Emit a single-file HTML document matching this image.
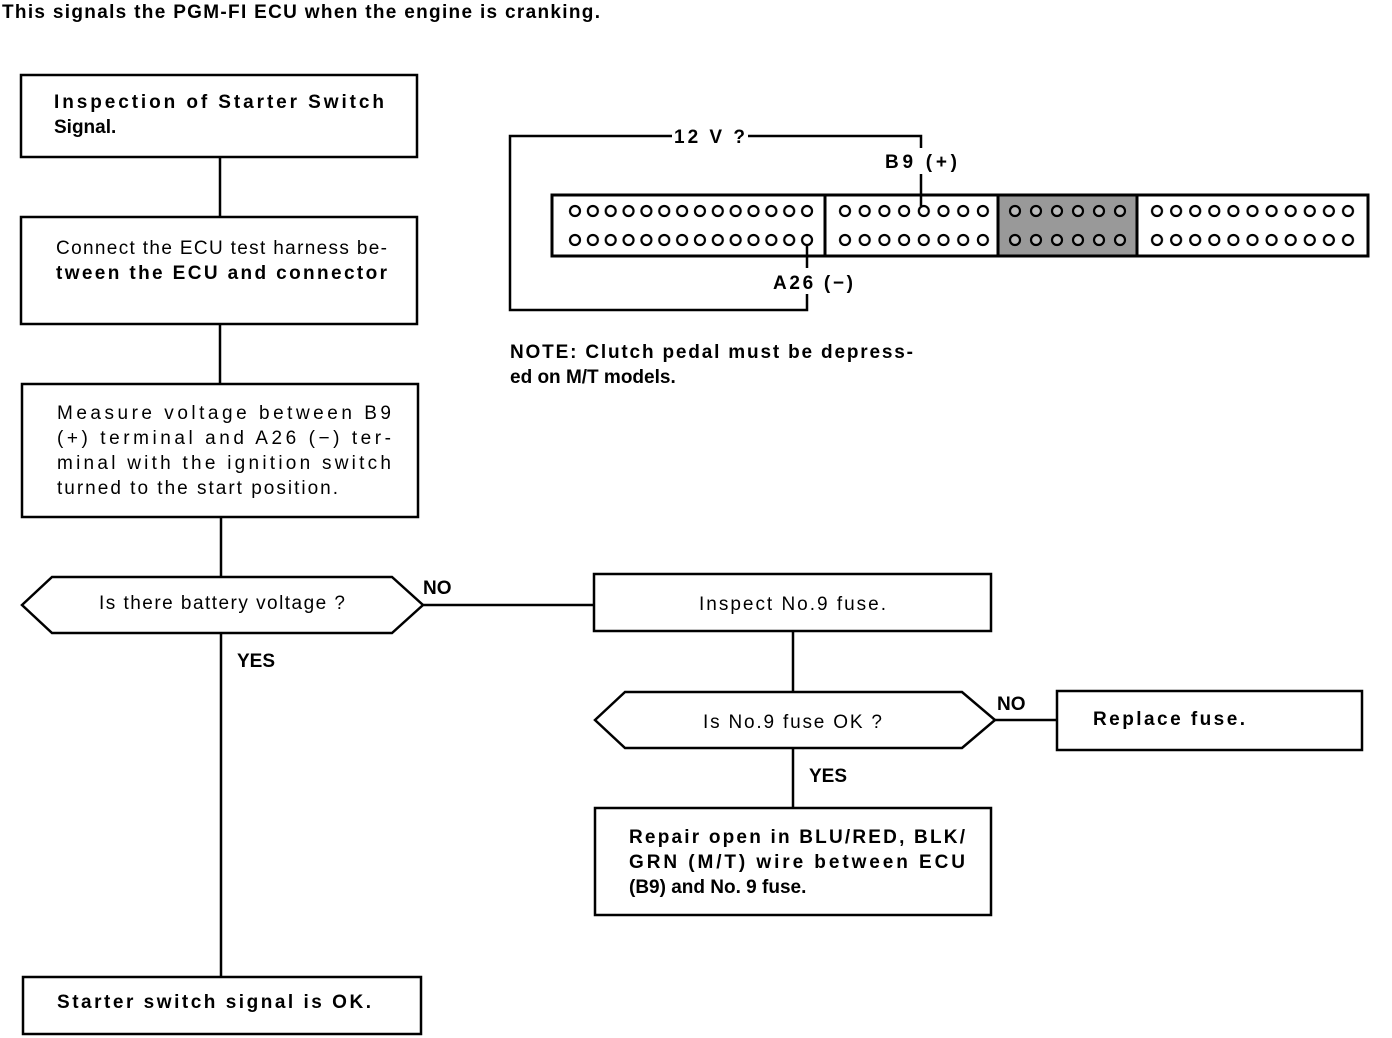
<!DOCTYPE html>
<html><head><meta charset="utf-8"><style>
html,body{margin:0;padding:0;background:#fff}
svg{display:block}
text{font-family:"Liberation Sans",sans-serif;font-weight:bold;font-size:19px;fill:#000}
</style></head><body>
<svg width="1392" height="1038" viewBox="0 0 1392 1038" xmlns="http://www.w3.org/2000/svg">
<defs>
<pattern id="pL" patternUnits="userSpaceOnUse" x="566.1" y="0" width="17.85" height="1038"><circle cx="8.9" cy="211" r="5" fill="none" stroke="#000" stroke-width="2.2"/><circle cx="8.9" cy="240" r="5" fill="none" stroke="#000" stroke-width="2.2"/></pattern>
<pattern id="pM" patternUnits="userSpaceOnUse" x="835.15" y="0" width="19.7" height="1038"><circle cx="9.85" cy="211" r="5" fill="none" stroke="#000" stroke-width="2.2"/><circle cx="9.85" cy="240" r="5" fill="none" stroke="#000" stroke-width="2.2"/></pattern>
<pattern id="pS" patternUnits="userSpaceOnUse" x="1004.5" y="0" width="21" height="1038"><circle cx="10.5" cy="211" r="5" fill="#bbb" stroke="#000" stroke-width="2.2"/><circle cx="10.5" cy="240" r="5" fill="#bbb" stroke="#000" stroke-width="2.2"/></pattern>
<pattern id="pR" patternUnits="userSpaceOnUse" x="1147.45" y="0" width="19.1" height="1038"><circle cx="9.55" cy="211" r="5" fill="none" stroke="#000" stroke-width="2.2"/><circle cx="9.55" cy="240" r="5" fill="none" stroke="#000" stroke-width="2.2"/></pattern>
</defs>

<text x="2" y="18" font-size="17" textLength="598">This signals the PGM-FI ECU when the engine is cranking.</text>

<g fill="none" stroke="#000" stroke-width="2.5">
<rect x="21" y="75" width="396" height="82"/>
<rect x="21" y="217" width="396" height="107"/>
<rect x="22" y="384" width="396" height="133"/>
<polygon points="22,605 52,577 392,577 423,605 392,633 52,633"/>
<rect x="594" y="574" width="397" height="57"/>
<polygon points="595,720 625,692 962,692 995,720 962,748 625,748"/>
<rect x="1057" y="691" width="305" height="59"/>
<rect x="595" y="808" width="396" height="107"/>
<rect x="23" y="977" width="398" height="57"/>
<line x1="220" y1="157" x2="220" y2="217"/>
<line x1="220" y1="324" x2="220" y2="384"/>
<line x1="221" y1="517" x2="221" y2="577"/>
<line x1="221" y1="633" x2="221" y2="977"/>
<line x1="423" y1="605" x2="594" y2="605"/>
<line x1="793" y1="631" x2="793" y2="692"/>
<line x1="793" y1="748" x2="793" y2="808"/>
<line x1="995" y1="720" x2="1057" y2="720"/>
</g>

<!-- connector -->
<rect x="998" y="196" width="139" height="59" fill="#999"/>
<rect x="566" y="200" width="250" height="50" fill="url(#pL)"/>
<rect x="835" y="200" width="158" height="50" fill="url(#pM)"/>
<rect x="1004" y="200" width="126" height="50" fill="url(#pS)"/>
<rect x="1147" y="200" width="211" height="50" fill="url(#pR)"/>
<g fill="none" stroke="#000" stroke-width="3">
<rect x="552" y="195" width="816" height="61"/>
<line x1="825" y1="195" x2="825" y2="256"/>
<line x1="998" y1="195" x2="998" y2="256"/>
<line x1="1137" y1="195" x2="1137" y2="256"/>
<polyline points="672,136 510,136 510,310 807,310 807,294" stroke-width="2.5"/>
<polyline points="748,136 921,136 921,148" stroke-width="2.5"/>
<line x1="921" y1="174" x2="921" y2="206" stroke-width="2.5"/>
<line x1="807" y1="245" x2="807" y2="268" stroke-width="2.5"/>
</g>
<text x="674" y="143" textLength="71">12 V ?</text>
<text x="885" y="168" textLength="72">B9 (+)</text>
<text x="773" y="289" textLength="80">A26 (−)</text>
<text x="510" y="358" textLength="403">NOTE: Clutch pedal must be depress-</text>
<text x="510" y="383">ed on M/T models.</text>

<text x="54" y="108" textLength="330">Inspection of Starter Switch</text>
<text x="54" y="133">Signal.</text>
<text x="56" y="254" textLength="331" style="font-weight:normal">Connect the ECU test harness be-</text>
<text x="56" y="279" textLength="331">tween the ECU and connector</text>
<text x="57" y="419" textLength="334" style="font-weight:normal">Measure voltage between B9</text>
<text x="57" y="444" textLength="334" style="font-weight:normal">(+) terminal and A26 (−) ter-</text>
<text x="57" y="469" textLength="334" style="font-weight:normal">minal with the ignition switch</text>
<text x="57" y="494" textLength="281" style="font-weight:normal">turned to the start position.</text>
<text x="99" y="609" textLength="246" style="font-weight:normal">Is there battery voltage ?</text>
<text x="423" y="594">NO</text>
<text x="237" y="667">YES</text>
<text x="699" y="610" textLength="187" style="font-weight:normal">Inspect No.9 fuse.</text>
<text x="703" y="728" textLength="179" style="font-weight:normal">Is No.9 fuse OK ?</text>
<text x="997" y="710">NO</text>
<text x="809" y="782">YES</text>
<text x="1093" y="725" textLength="152">Replace fuse.</text>
<text x="629" y="843" textLength="336">Repair open in BLU/RED, BLK/</text>
<text x="629" y="868" textLength="336">GRN (M/T) wire between ECU</text>
<text x="629" y="893">(B9) and No. 9 fuse.</text>
<text x="57" y="1008" textLength="314">Starter switch signal is OK.</text>
</svg>
</body></html>
